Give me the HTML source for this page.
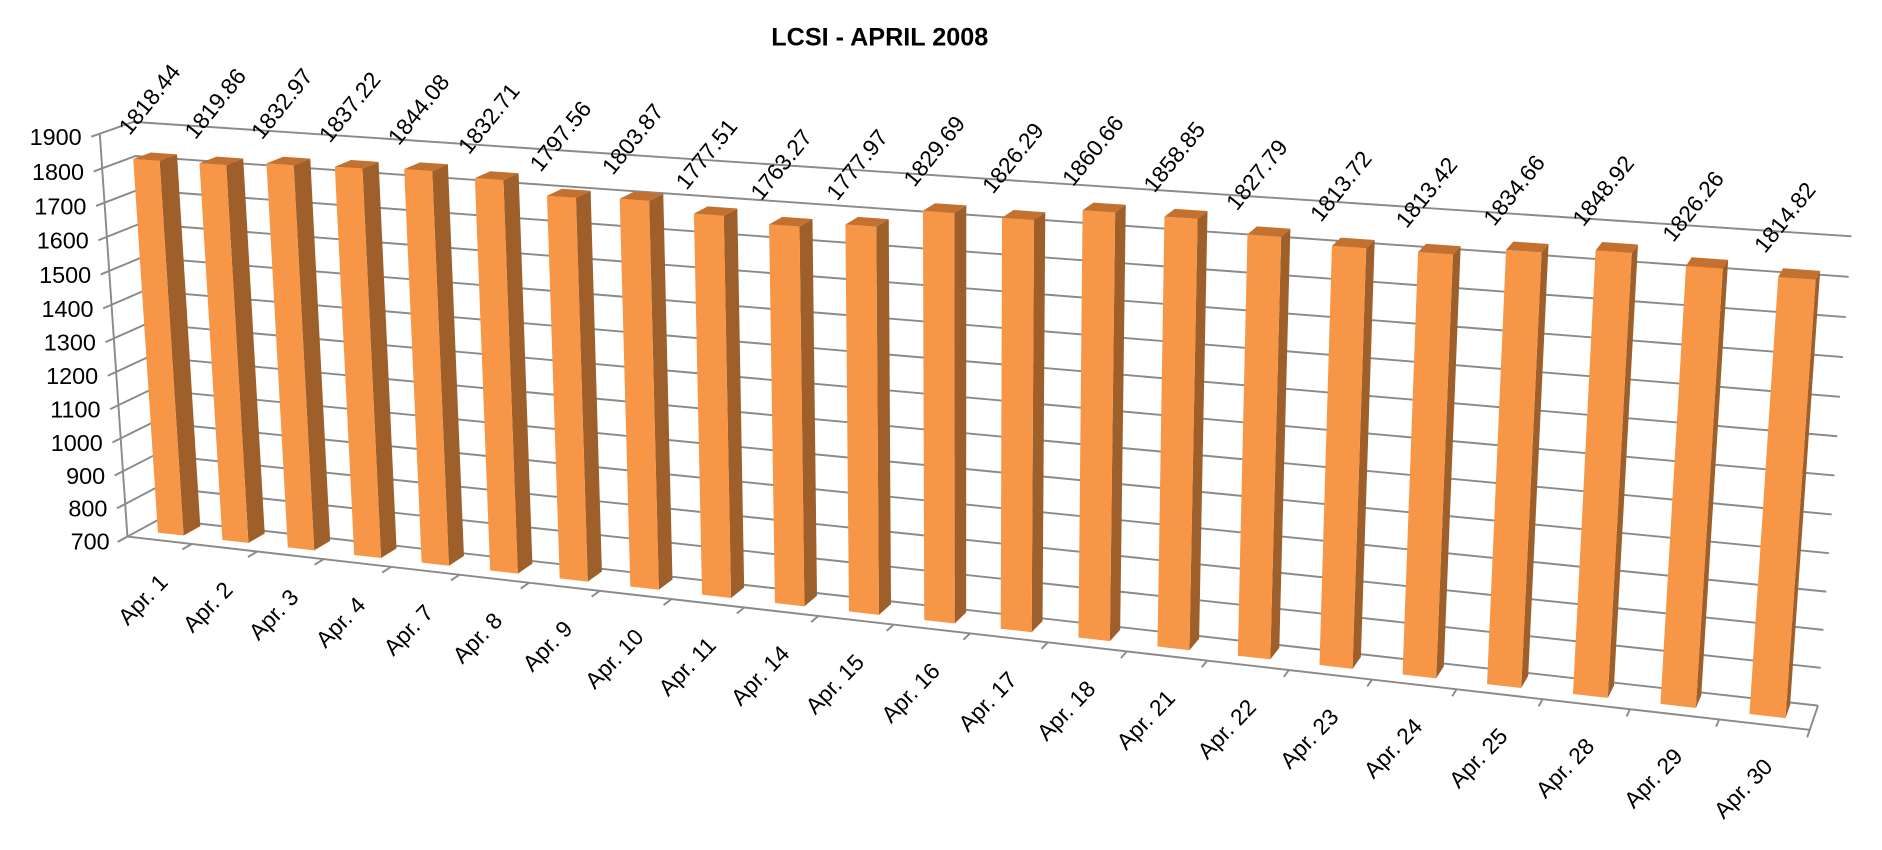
<!DOCTYPE html>
<html><head><meta charset="utf-8"><title>LCSI - APRIL 2008</title>
<style>
html,body{margin:0;padding:0;background:#fff;}
svg{display:block;}
text{font-family:"Liberation Sans",Arial,sans-serif;fill:#000;}
</style></head>
<body>
<svg id="chart" width="1882" height="850" viewBox="0 0 1568 708.2" preserveAspectRatio="none" xmlns="http://www.w3.org/2000/svg">
<rect x="0" y="0" width="1568" height="708.2" fill="#fff"/>
<text x="733" y="38" font-size="21" font-weight="bold" text-anchor="middle">LCSI - APRIL 2008</text>
<g id="grid"></g>
<g id="axes"></g>
<g id="bars"></g>
<g id="labels"></g>
</svg>
<script>
const categories = ["Apr. 1","Apr. 2","Apr. 3","Apr. 4","Apr. 7","Apr. 8","Apr. 9","Apr. 10","Apr. 11","Apr. 14","Apr. 15","Apr. 16","Apr. 17","Apr. 18","Apr. 21","Apr. 22","Apr. 23","Apr. 24","Apr. 25","Apr. 28","Apr. 29","Apr. 30"];
const values = [1818.44,1819.86,1832.97,1837.22,1844.08,1832.71,1797.56,1803.87,1777.51,1763.27,1777.97,1829.69,1826.29,1860.66,1858.85,1827.79,1813.72,1813.42,1834.66,1848.92,1826.26,1814.82];
const valueLabels = ["1818.44","1819.86","1832.97","1837.22","1844.08","1832.71","1797.56","1803.87","1777.51","1763.27","1777.97","1829.69","1826.29","1860.66","1858.85","1827.79","1813.72","1813.42","1834.66","1848.92","1826.26","1814.82"];
const yTicks = [700,800,900,1000,1100,1200,1300,1400,1500,1600,1700,1800,1900];
const yMin = 700, yMax = 1900;

const calib = [
 [0,0,0,106,446],[1,0,0,160,452.5],[2,0,0,214,459],[3,0,0,270,465.5],[4,0,0,326,472],[5,0,0,383,478],[6,0,0,442,484.5],
 [17,0,0,1142.7,567.5],[18,0,0,1213.3,575.7],[19,0,0,1285.4,584.3],[20,0,0,1358.1,592.9],[21,0,0,1432.4,600.5],[22,0,0,1507,606.5],
 [0,1,0,82.6,111],[0,0,1,132,435],[0,1,1,111.6,102.7],[22,0,1,1515.2,584.5],[22,1,1,1542.7,196]
];
function solve(A,b){const n=b.length;for(let i=0;i<n;i++){let m=i;for(let r=i+1;r<n;r++)if(Math.abs(A[r][i])>Math.abs(A[m][i]))m=r;[A[i],A[m]]=[A[m],A[i]];[b[i],b[m]]=[b[m],b[i]];for(let r=i+1;r<n;r++){const f=A[r][i]/A[i][i];for(let c=i;c<n;c++)A[r][c]-=f*A[i][c];b[r]-=f*b[i];}}const x=new Array(n).fill(0);for(let i=n-1;i>=0;i--){let s=b[i];for(let c=i+1;c<n;c++)s-=A[i][c]*x[c];x[i]=s/A[i][i];}return x;}
const rows=[],rhs=[];
calib.forEach(([X,Y,Z,u,v])=>{rows.push([X,Y,Z,1,0,0,0,0,-u*X,-u*Y,-u*Z]);rhs.push(u);rows.push([0,0,0,0,X,Y,Z,1,-v*X,-v*Y,-v*Z]);rhs.push(v);});
const N=[],B=[];for(let i=0;i<11;i++){N.push(new Array(11).fill(0));B.push(0);}
rows.forEach((r,k)=>{for(let i=0;i<11;i++){B[i]+=r[i]*rhs[k];for(let j=0;j<11;j++)N[i][j]+=r[i]*r[j];}});
const P=solve(N,B);
function proj(X,Y,Z){const w=P[8]*X+P[9]*Y+P[10]*Z+1;return [(P[0]*X+P[1]*Y+P[2]*Z+P[3])/w,(P[4]*X+P[5]*Y+P[6]*Z+P[7])/w];}
function yScale(v){return (v-yMin)/(yMax-yMin);}
const NS="http://www.w3.org/2000/svg";
function mk(tag,attrs,parent){const e=document.createElementNS(NS,tag);for(const k in attrs)e.setAttribute(k,attrs[k]);parent.appendChild(e);return e;}
function pts(a){return a.map(p=>p[0].toFixed(2)+","+p[1].toFixed(2)).join(" ");}
const nC=categories.length;
const grid=document.getElementById('grid'),axes=document.getElementById('axes'),barsG=document.getElementById('bars'),labelsG=document.getElementById('labels');
const gridColor="#8a8a8a";
yTicks.forEach((t)=>{
  const Y=yScale(t);
  const a=proj(0,Y,-0.25),b=proj(0,Y,0),c=proj(0,Y,1),d=proj(nC,Y,1);
  const gl=mk('polyline',{points:pts([b,c,d]),fill:'none',stroke:gridColor,'stroke-width':1.6},grid);
  
  
  const tk=mk('line',{x1:a[0],y1:a[1],x2:b[0],y2:b[1],stroke:gridColor,'stroke-width':1.6},axes);
  
  
  const lb=mk('text',{x:a[0]-8,y:a[1]+7,'font-size':19.5,'text-anchor':'end'},axes);
  lb.textContent=String(t);
  
  
});
{const a=proj(0,0,0),b=proj(0,1,0);const ax=mk('line',{x1:a[0],y1:a[1],x2:b[0],y2:b[1],stroke:gridColor,'stroke-width':1.6},axes);

}
{const a=proj(0,0,0),b=proj(nC,0,0),c=proj(nC,0,1);const fl=mk('polyline',{points:pts([a,b,c]),fill:'none',stroke:gridColor,'stroke-width':1.6},axes);

}
for(let k=0;k<=nC;k++){const a=proj(k,0,0),b=proj(k,0,-0.3);const tk=mk('line',{x1:a[0],y1:a[1],x2:b[0],y2:b[1],stroke:gridColor,'stroke-width':1.6},axes);

}
const g=0.30,w=0.40,z1=0.35,z2=0.88;
values.forEach((v,i)=>{
  const Y=yScale(v),x0=i+g,x1=i+g+w;
  const grp=mk('g',{},barsG);
  
  
  mk('polygon',{points:pts([proj(x1,0,z1),proj(x1,0,z2),proj(x1,Y,z2),proj(x1,Y,z1)]),fill:'#9f5f2b'},grp);
  mk('polygon',{points:pts([proj(x0,0,z1),proj(x1,0,z1),proj(x1,Y,z1),proj(x0,Y,z1)]),fill:'#f79646'},grp);
  mk('polygon',{points:pts([proj(x0,Y,z1),proj(x1,Y,z1),proj(x1,Y,z2),proj(x0,Y,z2)]),fill:'#c4712f'},grp);
  const tp=proj(x0,Y,z1);const t=i/(nC-1);
  const sx=tp[0]-3-8*t, sy=tp[1]-19;
  const vl=mk('text',{x:sx,y:sy,'font-size':19,transform:'rotate(-51 '+sx.toFixed(2)+' '+sy.toFixed(2)+')'},labelsG);
  vl.textContent=valueLabels[i];
  
  
  const m=proj(i+0.5,0,0);const ex=m[0]+8, ey=m[1]+36;
  const cl=mk('text',{x:ex,y:ey,'font-size':19,'text-anchor':'end',transform:'rotate(-46 '+ex.toFixed(2)+' '+ey.toFixed(2)+')'},labelsG);
  cl.textContent=categories[i];
  
  
});
</script>
</body></html>
